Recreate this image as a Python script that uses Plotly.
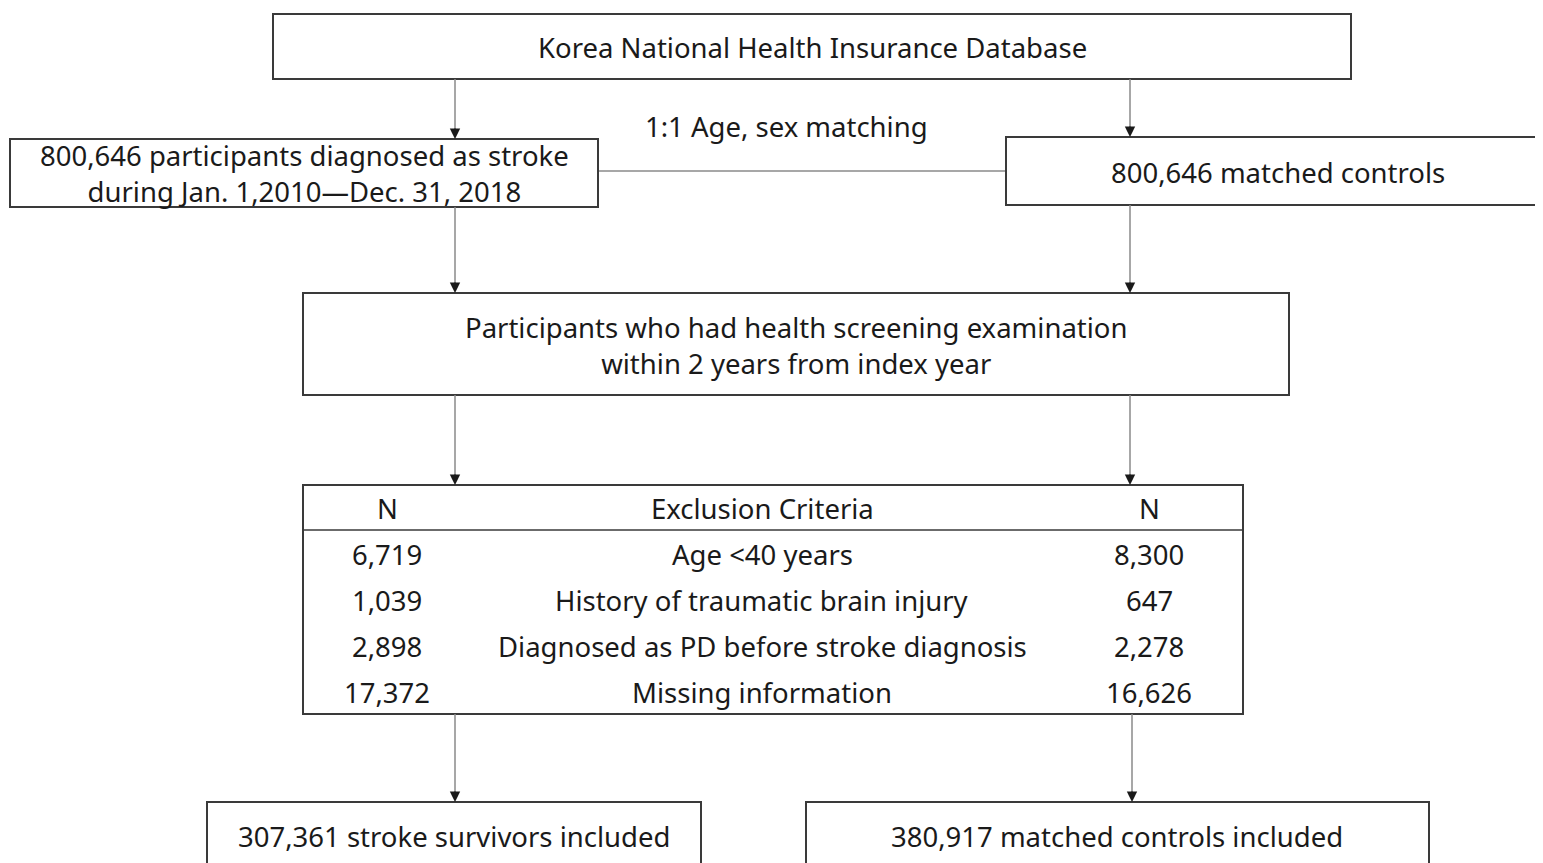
import plotly.graph_objects as go

# ---- data ----
source_label = "Korea National Health Insurance Database"
matching_label = "1:1 Age, sex matching"
n_stroke = 800646
n_controls = 800646
stroke_period = "during Jan. 1,2010\u2014Dec. 31, 2018"
screening_lines = ["Participants who had health screening examination",
                   "within 2 years from index year"]
table_header = ["N", "Exclusion Criteria", "N"]
criteria = ["Age <40 years", "History of traumatic brain injury",
            "Diagnosed as PD before stroke diagnosis", "Missing information"]
stroke_excluded = [6719, 1039, 2898, 17372]
control_excluded = [8300, 647, 2278, 16626]
stroke_included = 307361
control_included = 380917

W, H = 1543, 863
OFF = 8  # default page margin of the html body
FONT = "Noto Sans"
FS = 27.5
BOX_COLOR = "#3a3a3a"
LINE_COLOR = "#8a8a8a"

fig = go.Figure()
shapes = []
annotations = []

def box(x0, y0, x1, y1):
    shapes.append(dict(type="rect", xref="x", yref="y", x0=x0, y0=y0, x1=x1, y1=y1,
                       line=dict(color=BOX_COLOR, width=2), fillcolor="white", layer="above"))

def text(x, y, s, size=FS):
    annotations.append(dict(x=x, y=y, xref="x", yref="y", text=s, showarrow=False,
                            font=dict(family=FONT, size=size, color="#1a1a1a"),
                            xanchor="center", yanchor="middle"))

def arrow(x, y0, y1):
    shapes.append(dict(type="line", xref="x", yref="y", x0=x, y0=y0, x1=x, y1=y1 - 4,
                       line=dict(color=LINE_COLOR, width=1.5)))
    annotations.append(dict(x=x, y=y1, ax=x, ay=y1 - 12, xref="x", yref="y", axref="x", ayref="y",
                            text="", showarrow=True, arrowhead=2, arrowsize=1.6,
                            arrowwidth=1.3, arrowcolor="#1a1a1a", standoff=0))

def fmt(v):
    return f"{v:,}"

# top box
box(273, 14, 1351, 79)
text(812, 47, source_label)

# arrows to second row
arrow(455, 79, 139)
arrow(1130, 79, 137)

# matching connector
shapes.append(dict(type="line", xref="x", yref="y", x0=598, y0=171, x1=1006, y1=171,
                   line=dict(color=LINE_COLOR, width=1.5)))
text(786, 126, matching_label)

# second row boxes
box(10, 139, 598, 207)
text(304, 173, f"{fmt(n_stroke)} participants diagnosed as stroke<br>{stroke_period}")
box(1006, 137, 1550, 205)
text(1278, 172, f"{fmt(n_controls)} matched controls")

# arrows to screening
arrow(455, 207, 293)
arrow(1130, 205, 293)

# screening box
box(303, 293, 1289, 395)
text(796, 345, "<br>".join(screening_lines))

# arrows to table
arrow(455, 395, 485)
arrow(1130, 395, 485)

# exclusion table
box(303, 485, 1243, 714)
shapes.append(dict(type="line", xref="x", yref="y", x0=303, y0=530, x1=1243, y1=530,
                   line=dict(color=BOX_COLOR, width=1.5), layer="above"))
col_x = [387, 762, 1149]
text(col_x[0], 508, table_header[0])
text(col_x[1], 508, table_header[1])
text(col_x[2], 508, table_header[2])
row_y = [554, 600, 646, 692]
for yy, a, c, b in zip(row_y, stroke_excluded, criteria, control_excluded):
    text(col_x[0], yy, fmt(a))
    text(col_x[1], yy, c)
    text(col_x[2], yy, fmt(b))

# arrows to final boxes
arrow(455, 714, 802)
arrow(1132, 714, 802)

# final boxes
box(207, 802, 701, 880)
text(454, 836, f"{fmt(stroke_included)} stroke survivors included")
box(806, 802, 1429, 880)
text(1117, 836, f"{fmt(control_included)} matched controls included")

fig.update_layout(
    width=W, height=H,
    margin=dict(l=0, r=0, t=0, b=0),
    paper_bgcolor="white", plot_bgcolor="white",
    xaxis=dict(range=[OFF, W + OFF], visible=False, fixedrange=True),
    yaxis=dict(range=[H + OFF, OFF], visible=False, fixedrange=True),
    shapes=shapes, annotations=annotations, showlegend=False,
)

fig.write_html("out.html")
